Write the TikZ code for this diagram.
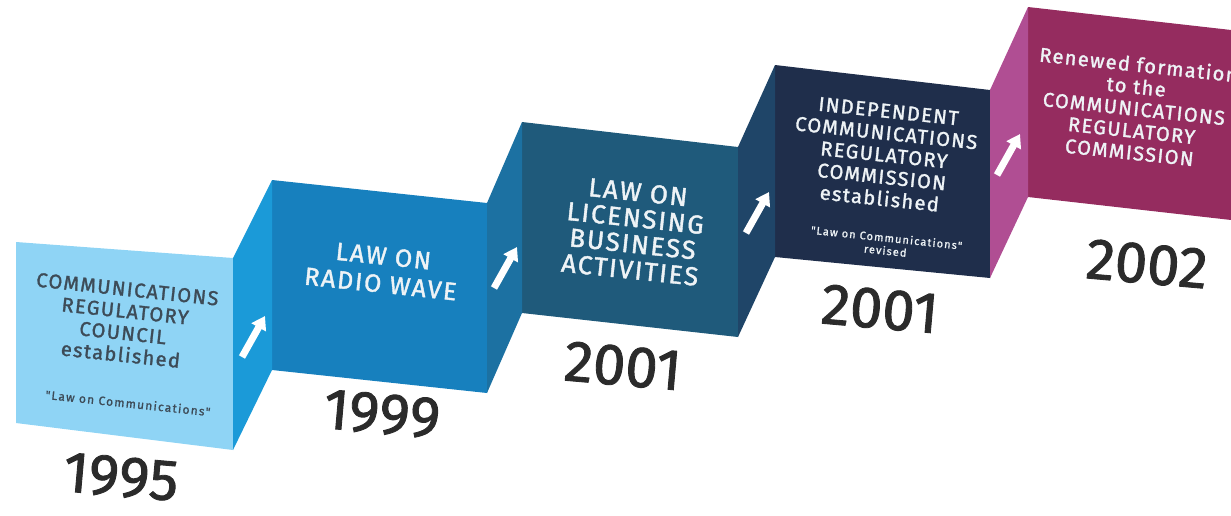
\documentclass[tikz,border=0pt]{standalone}
\usepackage{fontspec}
\setmainfont{Fira Sans}[FakeBold=1.5]
\newfontfamily\dinfont[LetterSpace=7, FakeBold=1.5]{Fira Sans}
\newfontfamily\dinsmall[LetterSpace=10, FakeBold=1]{Fira Sans}
\usetikzlibrary{arrows.meta}

\definecolor{frontA}{HTML}{8FD4F5}
\definecolor{frontB}{HTML}{1780BE}
\definecolor{frontC}{HTML}{1F5A7B}
\definecolor{frontD}{HTML}{1F2E4B}
\definecolor{frontE}{HTML}{952C5F}
\definecolor{sideA}{HTML}{1B9AD8}
\definecolor{sideB}{HTML}{1C71A2}
\definecolor{sideC}{HTML}{1F4568}
\definecolor{sideD}{HTML}{B04E93}
\definecolor{darktext}{HTML}{3D4B57}
\definecolor{lighttext}{HTML}{EEF3F6}
\definecolor{yeargray}{HTML}{2B2B2B}

\begin{document}
\begin{tikzpicture}[x=1pt, y=-1pt,
    every node/.style={align=center, inner sep=0pt},
    lbl/.style={rotate=-6, text=lighttext, font=\dinfont\fontsize{20}{22}\selectfont},
    note/.style={rotate=-6, text=lighttext, font=\dinsmall\fontsize{12}{14}\selectfont},
    year/.style={rotate=-5, text=yeargray, font=\fontsize{58}{60}\selectfont},
    uparrow/.style={white, line width=7pt, -{Triangle[width=16pt, length=13pt]}}]
    \clip (0,0) rectangle (1231,515);

    % Front faces of the folded strip
    \foreach \i/\xl/\ytl/\ybl/\xr/\ytr/\ybr/\col in {
        1/16/242/423/233/258/450/frontA,
        2/272/180/370/487/203/393/frontB,
        3/522/122/313/738/147/337/frontC,
        4/775/65/257/990/90/278/frontD,
        5/1028/7/197/1240/31/221/frontE} {
        \fill[\col] (\xl,\ytl) coordinate (tl\i) -- (\xr,\ytr) coordinate (tr\i)
            -- (\xr,\ybr) coordinate (br\i) -- (\xl,\ybl) coordinate (bl\i) -- cycle;
    }

    % Side faces between the fronts
    \foreach \i/\j/\col in {1/2/sideA, 2/3/sideB, 3/4/sideC, 4/5/sideD} {
        \fill[\col] (tr\i) -- (tl\j) -- (bl\j) -- (br\i) -- cycle;
    }

    % Arrows on the side faces
    \foreach \i/\x/\y in {1/253/337, 2/505/268, 3/757/213, 4/1008/155} {
        \coordinate (tail\i) at (\x-11,\y+20);
        \coordinate (tip\i) at (\x+12,\y-21);
        \draw[uparrow] (tail\i) -- (tip\i);
    }

    % Texts on the fronts
    \node[lbl, text=darktext] (council) at (124,322) {COMMUNICATIONS\\REGULATORY\\COUNCIL\\established};
    \node[note, text=darktext] (lawA) at (128,403) {"Law on Communications"};
    \node[lbl, font=\dinfont\fontsize{25}{28}\selectfont] (radio) at (382,270) {LAW ON\\RADIO WAVE};
    \node[lbl, font=\dinfont\fontsize{26}{26}\selectfont] (licensing) at (634,231) {LAW ON\\LICENSING\\BUSINESS\\ACTIVITIES};
    \node[lbl] (commission) at (884,155) {INDEPENDENT\\COMMUNICATIONS\\REGULATORY\\COMMISSION\\established};
    \node[note, font=\dinsmall\fontsize{11}{13}\selectfont] (lawB) at (886,244) {"Law on Communications"\\revised};
    \node[lbl] (renewed) at (1134,108) {Renewed formation\\to the\\COMMUNICATIONS\\REGULATORY\\COMMISSION};

    % Years
    \node[year] (y1995) at (121,477) {1995};
    \node[year] (y1999) at (382,414) {1999};
    \node[year] (y2001a) at (623,366) {2001};
    \node[year] (y2001b) at (880,309) {2001};
    \node[year] (y2002) at (1147,264) {2002};
\end{tikzpicture}
\end{document}
